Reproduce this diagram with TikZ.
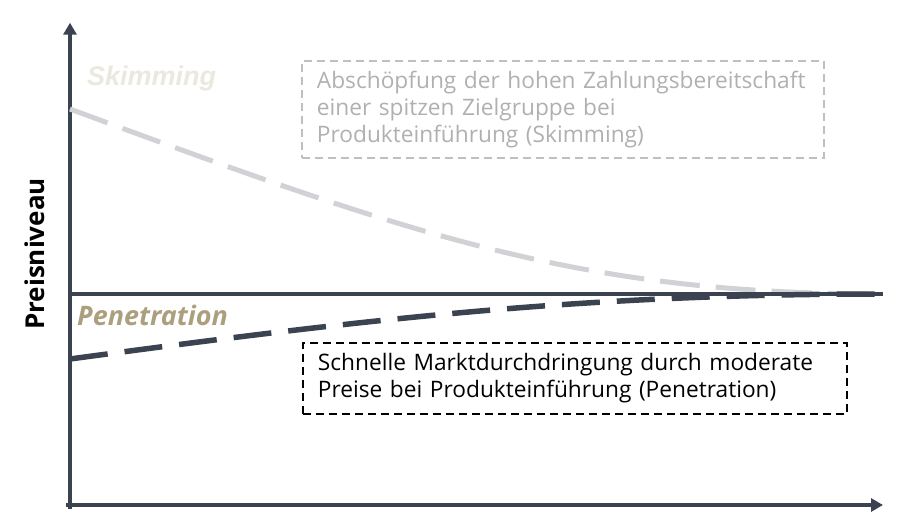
\documentclass[tikz,border=0pt]{standalone}
\usepackage{fontspec}
\setmainfont{Open Sans}
\newfontfamily\skimfont{Liberation Sans}
\usetikzlibrary{arrows.meta}
\definecolor{axiscol}{HTML}{3B4250}
\definecolor{skimline}{HTML}{D1D2D6}
\definecolor{skimlabel}{HTML}{EBE8DF}
\definecolor{penlabel}{HTML}{AB9F7E}
\definecolor{gboxline}{HTML}{BFBFBF}
\definecolor{gboxtext}{HTML}{B0B0B0}
\tikzset{
  axisline/.style={draw=axiscol, line width=4pt, -{Triangle[length=12pt,width=13pt]}},
  baseline/.style={draw=axiscol, line width=4pt},
  skimcurve/.style={draw=skimline, line width=5pt, dash pattern=on 40pt off 16pt},
  pencurve/.style={draw=axiscol, line width=5.5pt, dash pattern=on 38pt off 17pt},
  infobox/.style={anchor=north west, align=left, inner xsep=15pt, inner ysep=0pt,
    font=\fontsize{22.7}{27}\selectfont, dash pattern=on 8pt off 5pt, line width=1.8pt},
}
\begin{document}
\begin{tikzpicture}[x=1pt,y=-1pt]
\useasboundingbox (0,0) rectangle (906,526);
% axes
\coordinate (ybot) at (70,509);
\coordinate (ytop) at (70,22.7);
\coordinate (xleft) at (66,505);
\coordinate (xright) at (883,505);
\coordinate (pl) at (70,294);
\coordinate (pr) at (883,294);
\coordinate (skimstart) at (70,109);
\coordinate (penstart) at (70,359);
\draw[axisline] (ybot) -- (ytop);
\draw[axisline] (xleft) -- (xright);
% curves
\draw[skimcurve] (skimstart) .. controls (420,238.5) and (583,294) .. (pr);
\draw[baseline] (pl) -- (pr);
\draw[pencurve] (penstart) .. controls (370,318.5) and (583,294) .. (pr);
% labels
\node[text=skimlabel, font=\skimfont\bfseries\itshape\fontsize{27}{30}\selectfont, anchor=base west, inner sep=0pt] (skim) at (87,86) {Skimming};
\node[text=penlabel, font=\bfseries\itshape\fontsize{26.9}{30}\selectfont, anchor=base west, inner sep=0pt] (pen) at (77,325.5) {Penetration};
\node[font=\bfseries\fontsize{26}{28}\selectfont, rotate=90, inner sep=0pt] (ylab) at (35,254) {Preisniveau};
% boxes
\node[infobox, draw=gboxline, text=gboxtext, text width=492pt, minimum height=97pt] (skimbox) at (301,60)
  {Abschöpfung der hohen Zahlungsbereitschaft\\einer spitzen Zielgruppe bei\\Produkteinführung (Skimming)};
\node[infobox, draw=black, text=black, text width=514pt, minimum height=71pt] (penbox) at (302,342)
  {Schnelle Marktdurchdringung durch moderate\\Preise bei Produkteinführung (Penetration)};
\end{tikzpicture}
\end{document}
